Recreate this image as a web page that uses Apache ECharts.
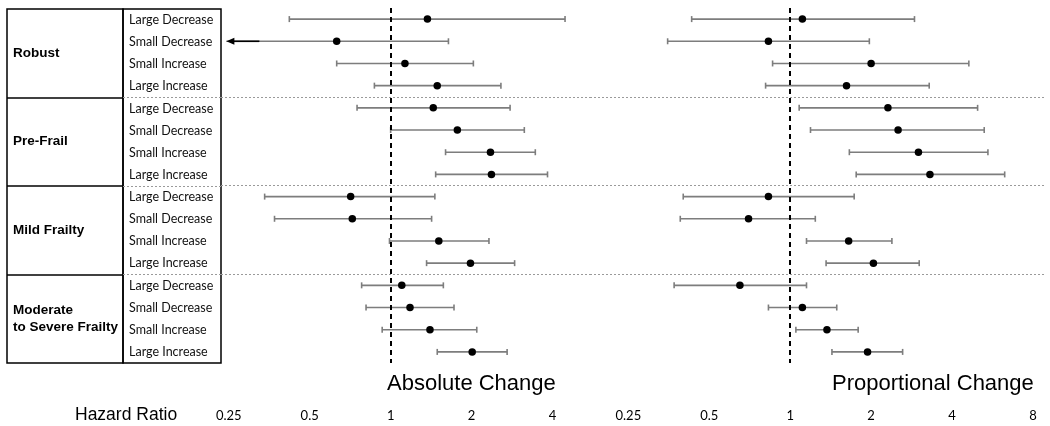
<!DOCTYPE html>
<html>
<head>
<meta charset="utf-8">
<script src="https://cdn.jsdelivr.net/npm/echarts@6/dist/echarts.min.js"></script>
<style>
  html, body { margin: 0; padding: 0; background: #fff; }
  #chart { width: 1050px; height: 426px; }
</style>
</head>
<body>
<div id="chart"></div>
<script>
// groups and the four change levels inside each group
const groups = ['Robust', 'Pre-Frail', 'Mild Frailty', 'Moderate\nto Severe Frailty'];
const changes = ['Large Decrease', 'Small Decrease', 'Small Increase', 'Large Increase'];
const rowLabels = groups.flatMap(() => changes);

// absolute change: hazard ratio + 95% CI
const absHR   = [1.37, 0.63, 1.13, 1.49, 1.44, 1.77, 2.35, 2.37, 0.71, 0.72, 1.51, 1.98, 1.10, 1.18, 1.40, 2.01];
const absLow  = [0.42, 0.245, 0.63, 0.87, 0.75, 1.00, 1.60, 1.47, 0.34, 0.37, 0.99, 1.36, 0.78, 0.81, 0.93, 1.49];
const absHigh = [4.45, 1.64, 2.03, 2.57, 2.78, 3.14, 3.45, 3.83, 1.46, 1.42, 2.32, 2.89, 1.57, 1.72, 2.09, 2.71];
const absTruncated = [1]; // lower CI runs off the axis -> arrow

// proportional change
const propHR   = [1.11, 0.83, 2.00, 1.62, 2.31, 2.52, 3.00, 3.31, 0.83, 0.70, 1.65, 2.04, 0.65, 1.11, 1.37, 1.94];
const propLow  = [0.43, 0.35, 0.86, 0.81, 1.08, 1.19, 1.66, 1.76, 0.40, 0.39, 1.15, 1.36, 0.37, 0.83, 1.05, 1.43];
const propHigh = [2.90, 1.97, 4.62, 3.29, 4.98, 5.27, 5.44, 6.28, 1.73, 1.24, 2.39, 3.02, 1.15, 1.49, 1.79, 2.62];
const propTruncated = [];

const absTicks = ['0.25', '0.5', '1', '2', '4'];
const propTicks = ['0.25', '0.5', '1', '2', '4', '8'];

const chart = echarts.init(document.getElementById('chart'));

const TOP = 8, HEIGHT = 355;
const sepLine = { show: true, lineStyle: { color: '#9a9a9a', width: 1, type: [2, 2] } };
const groupSplit = (i) => i > 0 && i % 4 === 0;

function renderCI(params, api) {
  const lo = api.coord([api.value(1), api.value(0)]);
  const hi = api.coord([api.value(2), api.value(0)]);
  const y = lo[1];
  const h = 3;
  const grey = { stroke: '#7d7d7d', lineWidth: 1.6 };
  const kids = [
    { type: 'line', shape: { x1: lo[0], y1: y, x2: hi[0], y2: y }, style: grey },
    { type: 'line', shape: { x1: hi[0], y1: y - h, x2: hi[0], y2: y + h }, style: grey }
  ];
  if (api.value(3)) {
    kids.push({ type: 'line', shape: { x1: lo[0] + 6, y1: y, x2: lo[0] + 33, y2: y }, style: { stroke: '#000', lineWidth: 1.6 } });
    kids.push({ type: 'polygon', shape: { points: [[lo[0], y], [lo[0] + 8, y - 3.5], [lo[0] + 8, y + 3.5]] }, style: { fill: '#000' } });
  } else {
    kids.push({ type: 'line', shape: { x1: lo[0], y1: y - h, x2: lo[0], y2: y + h }, style: grey });
  }
  return { type: 'group', children: kids };
}

function ciData(low, high, trunc) {
  return low.map((v, i) => [i, v, high[i], trunc.includes(i) ? 1 : 0]);
}

function logAxis(grid, min, max, ticks) {
  return {
    type: 'log', logBase: 2, gridIndex: grid, min: min, max: max,
    axisLine: { show: false }, axisTick: { show: false }, splitLine: { show: false },
    axisLabel: {
      margin: 46, fontFamily: 'Lato', fontSize: 13, color: '#000',
      showMinLabel: false, showMaxLabel: false,
      formatter: (v) => {
        const t = ticks.find(s => Math.abs(parseFloat(s) - v) < 1e-6);
        return t || '';
      }
    }
  };
}

function rowAxis(grid) {
  return {
    type: 'category', gridIndex: grid, data: rowLabels, inverse: true,
    axisLine: { show: false }, axisTick: { show: false }, axisLabel: { show: false },
    splitLine: Object.assign({ interval: groupSplit, showMinLine: true, showMaxLine: false }, sepLine)
  };
}

const dashed = {
  silent: true, symbol: 'none', label: { show: false },
  lineStyle: { color: '#000', width: 2, type: [5, 4], opacity: 1 },
  data: [{ xAxis: 1 }]
};

chart.setOption({
  animation: false,
  title: [
    { text: 'Absolute Change', left: 387, top: 373, padding: 0,
      textStyle: { fontFamily: 'Liberation Sans', fontSize: 22, fontWeight: 'normal', color: '#000' } },
    { text: 'Proportional Change', left: 832, top: 373, padding: 0,
      textStyle: { fontFamily: 'Liberation Sans', fontSize: 22, fontWeight: 'normal', color: '#000' } },
    { text: 'Hazard Ratio', left: 75, top: 406, padding: 0,
      textStyle: { fontFamily: 'Liberation Sans', fontSize: 17.5, fontWeight: 'normal', color: '#000' } }
  ],
  grid: [
    { left: 7, top: TOP + 1, width: 116, height: HEIGHT - 1, show: true, borderColor: '#000', borderWidth: 1.5 },
    { left: 123, top: TOP + 1, width: 98, height: HEIGHT - 1, show: true, borderColor: '#000', borderWidth: 1.5 },
    { left: 221, top: TOP, width: 369, height: HEIGHT },
    { left: 590, top: TOP, width: 455, height: HEIGHT }
  ],
  xAxis: [
    { type: 'value', gridIndex: 0, show: false },
    { type: 'value', gridIndex: 1, show: false },
    logAxis(2, 0.234, 5.51, absTicks),
    logAxis(3, 0.18, 8.87, propTicks)
  ],
  yAxis: [
    {
      type: 'category', gridIndex: 0, data: groups, inverse: true,
      axisLine: { show: false }, axisTick: { show: false },
      axisLabel: { inside: true, margin: 6, fontFamily: 'Liberation Sans', fontWeight: 'bold',
        fontSize: 13.5, lineHeight: 16.5, color: '#000', padding: [2, 0, 0, 0] },
      splitLine: { show: true, interval: 0, showMinLine: false, showMaxLine: false,
        lineStyle: { color: '#000', width: 1.5 } }
    },
    {
      type: 'category', gridIndex: 1, data: rowLabels, inverse: true,
      axisLine: { show: false }, axisTick: { show: false },
      axisLabel: { inside: true, margin: 6, fontFamily: 'Lato', fontSize: 12.5, color: '#111', padding: [3, 0, 0, 0] },
      splitLine: Object.assign({ interval: groupSplit, showMinLine: true, showMaxLine: false }, sepLine)
    },
    rowAxis(2),
    rowAxis(3)
  ],
  series: [
    { type: 'custom', name: 'absCI', xAxisIndex: 2, yAxisIndex: 2, renderItem: renderCI,
      encode: { x: [1, 2], y: 0 }, data: ciData(absLow, absHigh, absTruncated), z: 2 },
    { type: 'scatter', name: 'absHR', xAxisIndex: 2, yAxisIndex: 2, symbolSize: 7.5,
      itemStyle: { color: '#000', opacity: 1 }, data: absHR.map((v, i) => [v, i]), markLine: dashed, z: 3 },
    { type: 'custom', name: 'propCI', xAxisIndex: 3, yAxisIndex: 3, renderItem: renderCI,
      encode: { x: [1, 2], y: 0 }, data: ciData(propLow, propHigh, propTruncated), z: 2 },
    { type: 'scatter', name: 'propHR', xAxisIndex: 3, yAxisIndex: 3, symbolSize: 7.5,
      itemStyle: { color: '#000', opacity: 1 }, data: propHR.map((v, i) => [v, i]), markLine: dashed, z: 3 }
  ]
});
</script>
</body>
</html>
